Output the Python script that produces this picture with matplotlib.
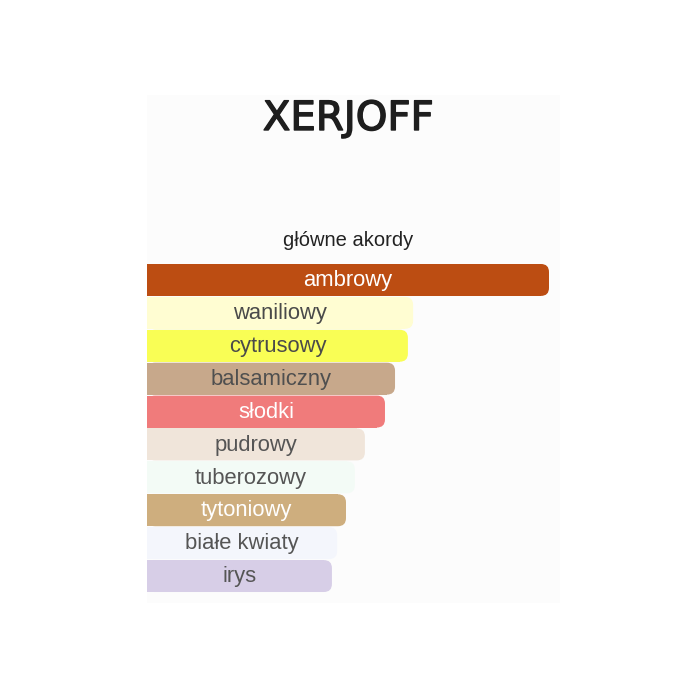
import matplotlib.pyplot as plt
from matplotlib.patches import FancyBboxPatch, Rectangle
import matplotlib.patheffects as pe

# dane: akordy i ich siła (w % najsilniejszego)
akordy = ['ambrowy', 'waniliowy', 'cytrusowy', 'balsamiczny', 'słodki',
          'pudrowy', 'tuberozowy', 'tytoniowy', 'białe kwiaty', 'irys']
wartosci = [100, 66.2, 64.9, 61.7, 59.2, 54.2, 51.7, 49.5, 47.3, 46.0]
kolory = ['#BC4D12', '#FFFDD2', '#F9FE55', '#C7A88B', '#F07B7B',
          '#F0E5DA', '#F3FBF6', '#CEAE7E', '#F4F6FC', '#D7CEE7']
kolory_tekstu = ['#FFFFFF', '#4A4A4A', '#4A4A4A', '#4F4F4F', '#FFFFFF',
                 '#555555', '#555555', '#FFFFFF', '#555555', '#555555']

W, H = 700, 700
fig = plt.figure(figsize=(7, 7), dpi=100)
fig.patch.set_facecolor('white')

# delikatne tło pod całym blokiem
fig.add_artist(Rectangle((147 / W, 1 - 603 / H), (560 - 147) / W, (603 - 95) / H,
                         transform=fig.transFigure, facecolor='#FCFCFC',
                         edgecolor='none', zorder=0))

# logo
fig.text(348.5 / W, 1 - 119 / H, 'XERJOFF', ha='center', va='center',
         fontsize=29, family='DejaVu Sans', color='#1E1E1E',
         path_effects=[pe.withStroke(linewidth=1.0, foreground='#1E1E1E')])

# tytuł
fig.text(348 / W, 1 - 241 / H, 'główne akordy', ha='center', va='center',
         fontsize=14.5, family='Liberation Sans', color='#222222')

# osie z paskami
top, bottom = 263.5, 592.5
ax = fig.add_axes([147 / W, 1 - bottom / H, 402 / W, (bottom - top) / H])
ax.set_xlim(0, 100)
ax.set_ylim(len(akordy) - 0.5, -0.5)
ax.axis('off')

h = 0.97
r = 2.0                      # promień zaokrąglenia w jednostkach x
aspekt = (402 / 100) / ((bottom - top) / len(akordy))

for i, (nazwa, w, c, tc) in enumerate(zip(akordy, wartosci, kolory, kolory_tekstu)):
    ax.barh(i, w - r, height=h, left=0, color=c, edgecolor='none')
    ax.add_patch(FancyBboxPatch((0, i - h / 2), w, h,
                                boxstyle='round,pad=0,rounding_size=%f' % r,
                                mutation_aspect=aspekt,
                                facecolor=c, edgecolor='none'))
    ax.text(w / 2, i + 0.02, nazwa, ha='center', va='center', fontsize=15.8,
            family='Liberation Sans', color=tc)

plt.savefig('out.png', dpi=100)
